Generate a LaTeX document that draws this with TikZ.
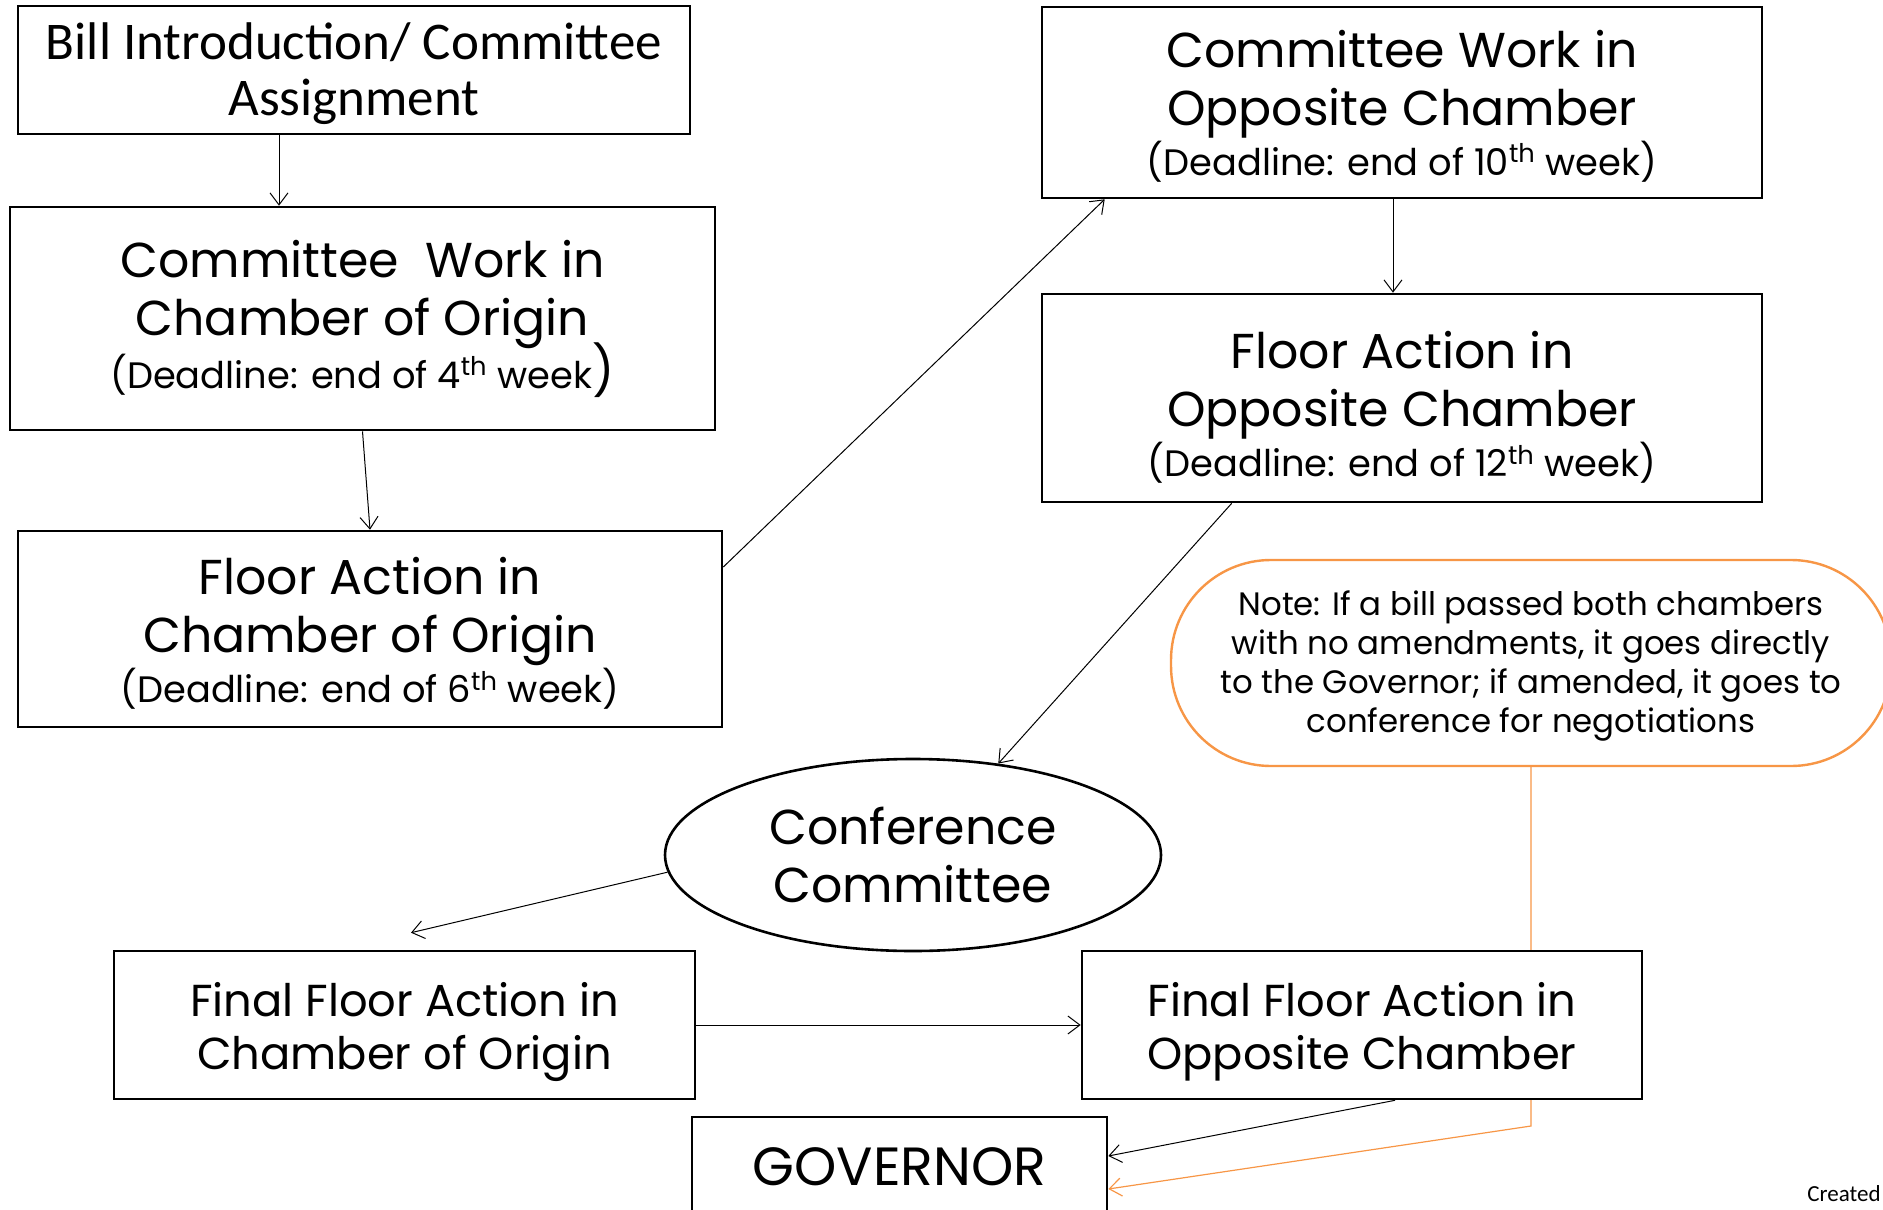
\documentclass[tikz,border=0pt]{standalone}
\usepackage{fontspec}
\setmainfont{Poppins}
\newfontfamily\calib{Carlito}
\usetikzlibrary{arrows.meta,shapes.geometric,backgrounds,calc}
\definecolor{noteorange}{HTML}{F79646}
\newcommand\mybig{\fontsize{24.5}{29}\selectfont}
\newcommand\mydl{\fontsize{18.4}{25}\selectfont}
\newcommand\myfinal{\fontsize{22.4}{26.5}\selectfont}
\newcommand\mynote{\fontsize{16.2}{19.4}\selectfont}
\newcommand\mydown[1]{\rule{0pt}{\dimexpr\fontcharht\font`l+#1\relax}}
\tikzset{
  box/.style={draw=black, line width=1.3pt, fill=white, inner sep=0pt, align=center},
  conn/.style={draw=black, line width=0.5pt, -{Straight Barb[length=6pt,width=9pt]}},
  orconn/.style={draw=noteorange, line width=0.6pt, -{Straight Barb[length=6pt,width=9pt]}},
}
\begin{document}
\begin{tikzpicture}[x=0.5pt,y=-0.5pt]
\useasboundingbox (0,0) rectangle (1883,1209);
\clip (0,0) rectangle (1883,1209);
% nodes
\node[box, minimum width=336pt, minimum height=64pt, font=\calib\fontsize{26.5}{28}\selectfont] (intro) at (354,70) {\mydown{4pt}Bill Introduction/ Committee\\Assignment};
\node[box, minimum width=352.5pt, minimum height=111.5pt, font=\mybig] (cwo) at (362.5,318.5)
  {Committee\ \ Work in\\Chamber of Origin\\[-4pt]{\mydl(Deadline: end of 4\textsuperscript{th} week}{)}};
\node[box, minimum width=352pt, minimum height=98pt, font=\mybig] (fao) at (370,629)
  {\mydown{5pt}Floor Action in\\Chamber of Origin\\[-4pt]{\mydl(Deadline: end of 6\textsuperscript{th} week)}};
\node[box, minimum width=360pt, minimum height=95.5pt, font=\mybig] (cwp) at (1402,102.5)
  {\mydown{4pt}Committee Work in\\Opposite Chamber\\[-4pt]{\mydl(Deadline: end of 10\textsuperscript{th} week)}};
\node[box, minimum width=360pt, minimum height=104pt, font=\mybig] (fap) at (1402,398)
  {\mydown{10pt}Floor Action in\\Opposite Chamber\\[-4pt]{\mydl(Deadline: end of 12\textsuperscript{th} week)}};
\node[box, draw=noteorange, line width=1.2pt, rounded corners=50pt, minimum width=360pt, minimum height=103pt, font=\mynote] (note) at (1531,663)
  {\mydown{3.5pt}Note: If a bill passed both chambers\\with no amendments, it goes directly\\to the Governor; if amended, it goes to\\conference for negotiations};
\node[box, ellipse, minimum width=248pt, minimum height=96pt, font=\mybig] (cc) at (913,855) {Conference\\Committee};
\node[box, minimum width=290.5pt, minimum height=74pt, font=\myfinal] (ffo) at (404.5,1025) {\mydown{7pt}Final Floor Action in\\Chamber of Origin};
\node[box, minimum width=280pt, minimum height=74pt, font=\myfinal] (ffp) at (1362,1025) {\mydown{7pt}Final Floor Action in\\Opposite Chamber};
\node[box, minimum width=207.5pt, minimum height=50pt, font=\fontsize{26.9}{30}\selectfont] (gov) at (899.5,1167) {GOVERNOR};
\node[anchor=base west, inner sep=0pt, font=\calib\fontsize{11.5}{14}\selectfont] (created) at (1807,1201) {Created};
% connectors
\draw[conn] ([xshift=-37.5pt]intro.south) -- ([xshift=-41.75pt]cwo.north);
\draw[conn] (cwo.south) -- (fao.north);
\draw[conn] ([yshift=31pt]fao.east) -- ([xshift=32pt]cwp.south west);
\draw[conn] ([xshift=-4.5pt]cwp.south) -- ([xshift=-4.5pt]fap.north);
\draw[conn] ([xshift=95.5pt]fap.south west) -- (cc.47.5);
\draw[conn] (cc.184) -- ([xshift=3.25pt,yshift=8.5pt]ffo.north);
\draw[conn] (ffo.east) -- (ffp.west);
\draw[conn] ([xshift=16.5pt]ffp.south) -- ([yshift=5.5pt]gov.east);
\coordinate (bend) at (1530,1126);
\begin{scope}[on background layer]
\draw[orconn] (note.south) -- (note.south |- bend) -- ([yshift=-11pt]gov.east);
\end{scope}
\end{tikzpicture}
\end{document}
